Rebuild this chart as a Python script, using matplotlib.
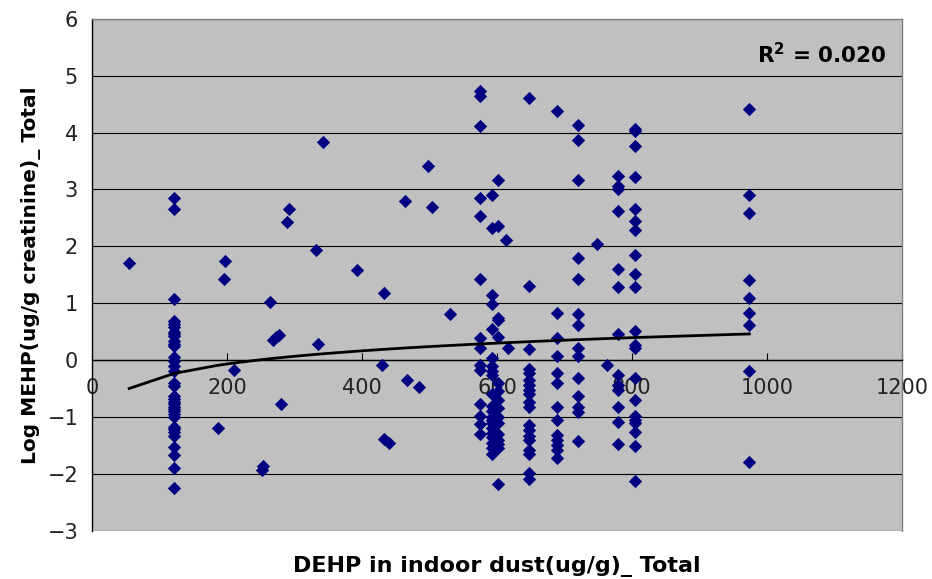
import numpy as np
import matplotlib
matplotlib.use('Agg')
import matplotlib.pyplot as plt

# DEHP in dust (ug/g) per participant, paired with log urinary MEHP (ug/g creatinine)
dehp_dust = [
    55, 186, 195, 197.5, 210, 252, 254, 264, 268, 272, 277, 280.6, 289, 291.5,
    332.6, 335, 342.5, 392.5, 430, 432.6, 432.6, 440, 463.7, 466, 484.5, 498.4,
    504.4, 530, 613, 616, 748, 763,
] + [122] * 35 + [575] * 14 + [592] * 21 + [601] * 16 + [647] * 19 \
  + [689] * 13 + [720] * 14 + [779] * 13 + [805] * 21 + [974] * 9

log_mehp = [
    1.70, -1.19, 1.43, 1.75, -0.17, -1.93, -1.86, 1.02, 0.35, 0.40, 0.44, -0.78, 2.42, 2.66,
    1.94, 0.29, 3.84, 1.58, -0.08, 1.18, -1.39, -1.45, 2.80, -0.35, -0.48, 3.42,
    2.69, 0.81, 2.12, 0.21, 2.05, -0.08,
    # 122
    2.85, 2.66, 1.08, 0.68, 0.63, 0.59, 0.50, 0.46, 0.42, 0.33, 0.29, 0.24, 0.06, -0.02,
    -0.11, -0.20, -0.41, -0.45, -0.64, -0.68, -0.73, -0.78, -0.82, -0.86, -0.90, -0.95,
    -1.00, -1.17, -1.21, -1.26, -1.33, -1.52, -1.67, -1.90, -2.25,
    # 575
    4.74, 4.65, 4.12, 2.85, 2.53, 1.43, 0.39, 0.21, -0.08, -0.17, -0.78, -0.98, -1.12, -1.30,
    # 592
    2.90, 2.33, 1.14, 0.99, 0.54, 0.04, -0.11, -0.20, -0.26, -0.60, -0.80, -0.90, -1.00,
    -1.06, -1.10, -1.20, -1.28, -1.35, -1.45, -1.55, -1.65,
    # 601
    3.17, 2.36, 0.74, 0.71, 0.40, -0.40, -0.55, -0.70, -0.85, -1.00, -1.10, -1.30, -1.40,
    -1.48, -1.55, -2.18,
    # 647
    4.60, 1.31, 0.19, -0.16, -0.23, -0.35, -0.43, -0.52, -0.59, -0.73, -0.82, -1.14, -1.23,
    -1.34, -1.40, -1.58, -1.65, -1.98, -2.09,
    # 689
    4.38, 0.83, 0.39, 0.08, -0.22, -0.41, -0.83, -1.05, -1.32, -1.40, -1.49, -1.58, -1.73,
    # 720
    4.14, 3.87, 3.17, 1.80, 1.43, 0.81, 0.61, 0.21, 0.08, -0.32, -0.64, -0.82, -0.92, -1.42,
    # 779
    3.23, 3.07, 3.00, 2.63, 1.61, 1.29, 0.46, -0.26, -0.43, -0.52, -0.83, -1.08, -1.48,
    # 805
    4.07, 4.02, 3.76, 3.22, 2.66, 2.45, 2.28, 1.85, 1.51, 1.29, 0.52, 0.27, 0.21, -0.32,
    -0.70, -0.99, -1.05, -1.11, -1.27, -1.51, -2.13,
    # 974
    4.41, 2.90, 2.58, 1.40, 1.10, 0.83, 0.62, -0.20, -1.80,
]

# logarithmic trend line y = a + b*ln(x), as reported with the chart
trend_a = -1.838
trend_b = 0.334

x_ticks = [0, 200, 400, 600, 800, 1000, 1200]
y_ticks = [-3, -2, -1, 0, 1, 2, 3, 4, 5, 6]
r2_label = r'R$^\mathbf{2}$ = 0.020'

x = np.array(dehp_dust, dtype=float)
y = np.array(log_mehp, dtype=float)

xs = np.unique(x)
ys = trend_a + trend_b * np.log(xs)

plt.rcParams['font.family'] = ['DejaVu Sans']

fig = plt.figure(figsize=(9.32, 5.79), dpi=100)
ax = fig.add_axes([0.0987, 0.0834, 0.869, 0.884])
ax.set_facecolor('#c0c0c0')

ax.set_xlim(0, 1200)
ax.set_ylim(-3, 6)
ax.set_yticks(y_ticks)
ax.set_xticks(x_ticks)
ax.yaxis.grid(True, color='black', linewidth=0.8)
ax.set_axisbelow(True)

ax.scatter(x, y, marker='D', s=46, color='#000080', linewidths=0, zorder=3)
ax.plot(xs, ys, color='black', linewidth=2.0, zorder=4)

ax.spines['bottom'].set_position(('data', 0))
ax.spines['bottom'].set_linewidth(1.0)
ax.spines['left'].set_linewidth(1.0)
for side in ('top', 'right'):
    ax.spines[side].set_color('#808080')
    ax.spines[side].set_linewidth(1.0)

ax.tick_params(axis='x', direction='in', length=5, pad=13, labelsize=15,
               labelcolor='#222222')
ax.tick_params(axis='y', direction='out', length=0, pad=10, labelsize=15,
               labelcolor='#222222')

ax.text(1177, 5.37, r2_label, ha='right', va='center', fontsize=15.5,
        fontweight='bold')

ax.text(-0.075, 0.5, 'Log MEHP(ug/g creatinine)_ Total', transform=ax.transAxes,
        rotation=90, ha='center', va='center', fontsize=14.5, fontweight='bold')
ax.text(0.5, -0.07, 'DEHP in indoor dust(ug/g)_ Total', transform=ax.transAxes,
        ha='center', va='center', fontsize=16, fontweight='bold')

fig.savefig('out.png', dpi=100, facecolor='white')
